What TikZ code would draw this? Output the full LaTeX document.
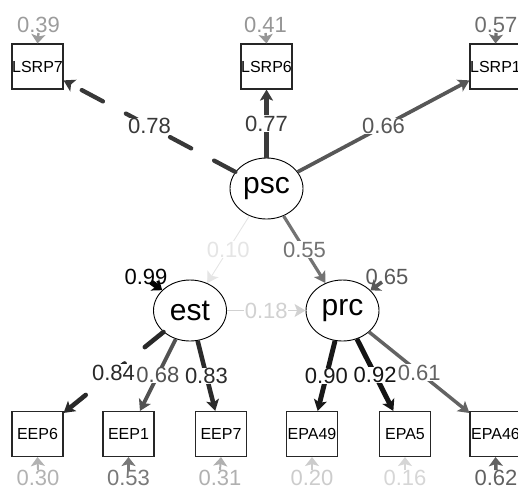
\documentclass[tikz,border=0pt]{standalone}
\usepackage{fontspec}
\setmainfont{Liberation Sans}
\usetikzlibrary{shapes.geometric,arrows.meta}
\tikzstyle{mbox}=[rectangle, draw=black!85, line width=1.1pt, fill=white,
                  minimum width=51pt, minimum height=45pt, inner sep=0pt,
                  font=\fontsize{16}{16}\selectfont]
\tikzstyle{lat}=[ellipse, draw=black, line width=0.9pt, fill=white,
                 minimum width=73pt, minimum height=61pt, inner sep=0pt,
                 font=\fontsize{30}{30}\selectfont]
\tikzstyle{dline}=[dash pattern=on 24pt off 26pt, line cap=round]
\tikzset{pline/.style={draw=black!#1, line width={0.4pt+0.05pt*#1},
           -{Stealth[length=11pt,width=13pt,inset=2.5pt]}},
         rline/.style={pline=#1, -{Stealth[length=9pt,width=14pt,inset=2pt]}},
         elab/.style={fill=white, inner sep=0.5pt, text=black!#1,
           font=\fontsize{22}{22}\selectfont},
         rlab/.style={inner sep=0pt, text=black!#1,
           font=\fontsize{22}{22}\selectfont}}

\begin{document}
\begin{tikzpicture}[x=1pt,y=-1pt]
\useasboundingbox (0,0) rectangle (518,488);

% latent variables
\node (psc) [lat] at (266.5,188.5) {psc};
\node (est) [lat] at (190,310.5) {est};
\node (prc) [lat] at (342.5,310.5) {prc};

% indicators
\node (LSRP7) [mbox] at (37.5,66.5) {LSRP7};
\node (LSRP6) [mbox] at (266.5,66.5) {LSRP6};
\node (LSRP1) [mbox] at (495.5,66.5) {LSRP1};
\node (EEP6) [mbox] at (37.5,434) {EEP6};
\node (EEP1) [mbox] at (128.5,434) {EEP1};
\node (EEP7) [mbox] at (221,434) {EEP7};
\node (EPA49) [mbox] at (312,434) {EPA49};
\node (EPA5) [mbox] at (405,434) {EPA5};
\node (EPA46) [mbox] at (495.5,434) {EPA46};

% loadings and regressions
\draw[pline=78, dline] (psc) -- node[elab=78] {0.78} (LSRP7);
\draw[pline=77] (psc) -- node[elab=77] {0.77} (LSRP6);
\draw[pline=66] (psc) -- node[elab=66] {0.66} (LSRP1);
\draw[pline=10] (psc) -- node[elab=10] {0.10} (est);
\draw[pline=55] (psc) -- node[elab=55] {0.55} (prc);
\draw[pline=18] (est) -- node[elab=18] {0.18} (prc);
\draw[pline=84, dline] (est) -- node[elab=84] {0.84} (EEP6);
\draw[pline=68] (est) -- node[elab=68] {0.68} (EEP1);
\draw[pline=83] (est) -- node[elab=83] {0.83} (EEP7);
\draw[pline=90] (prc) -- node[elab=90] {0.90} (EPA49);
\draw[pline=92] (prc) -- node[elab=92] {0.92} (EPA5);
\draw[pline=61] (prc) -- node[elab=61] {0.61} (EPA46);

% residuals
\node (rLSRP7) [rlab=39] at (38.5,25) {0.39};
\node (rLSRP6) [rlab=41] at (265.5,25) {0.41};
\node (rLSRP1) [rlab=57] at (496,25) {0.57};
\draw[rline=39] (rLSRP7.south) -- (LSRP7.north);
\draw[rline=41] (rLSRP6.south) -- (LSRP6.north);
\draw[rline=57] (rLSRP1.south) -- (LSRP1.north);

\node (rEEP6) [rlab=30] at (38,478) {0.30};
\node (rEEP1) [rlab=53] at (128.5,478) {0.53};
\node (rEEP7) [rlab=31] at (220,478) {0.31};
\node (rEPA49) [rlab=20] at (312,478) {0.20};
\node (rEPA5) [rlab=16] at (405,478) {0.16};
\node (rEPA46) [rlab=62] at (496,478) {0.62};
\draw[rline=30] (rEEP6.north) -- (EEP6.south);
\draw[rline=53] (rEEP1.north) -- (EEP1.south);
\draw[rline=31] (rEEP7.north) -- (EEP7.south);
\draw[rline=20] (rEPA49.north) -- (EPA49.south);
\draw[rline=16] (rEPA5.north) -- (EPA5.south);
\draw[rline=62] (rEPA46.north) -- (EPA46.south);

\node (rest) [rlab=99] at (146,277) {0.99};
\node (rprc) [rlab=65] at (387,277) {0.65};
\coordinate (rest0) at (151,282);
\coordinate (rprc0) at (382,282);
\draw[rline=99] (rest0) -- (est);
\draw[rline=65] (rprc0) -- (prc);

\end{tikzpicture}
\end{document}
